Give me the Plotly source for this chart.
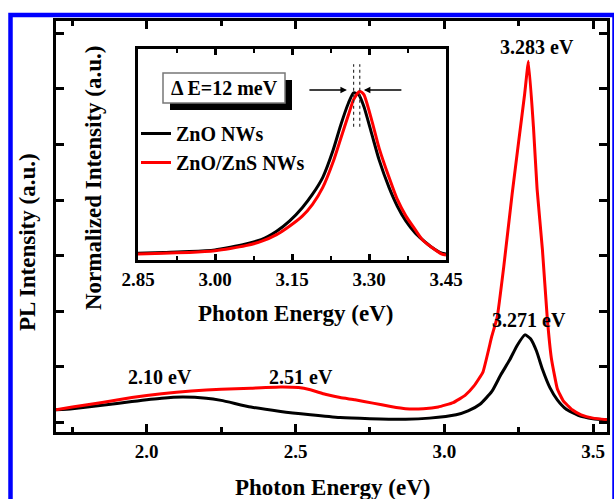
import plotly.graph_objects as go

# ---------------- data ----------------
# main panel: PL intensity (a.u.) vs photon energy (eV)
e_zno = [1.695, 1.75, 1.85, 1.95, 2.05, 2.12, 2.20, 2.25, 2.35, 2.45, 2.55, 2.65, 2.75, 2.87,
         2.95, 3.04, 3.08, 3.12, 3.16, 3.19, 3.22, 3.245, 3.271, 3.29, 3.31, 3.33, 3.355,
         3.38, 3.41, 3.45, 3.50, 3.547]
i_zno = [0.22, 0.24, 0.30, 0.37, 0.43, 0.45, 0.43, 0.39, 0.27, 0.19, 0.13, 0.08, 0.06, 0.05,
         0.07, 0.13, 0.20, 0.32, 0.55, 0.85, 1.12, 1.38, 1.57, 1.50, 1.28, 0.95, 0.62,
         0.40, 0.23, 0.12, 0.06, 0.04]

e_zns = [1.695, 1.75, 1.85, 1.95, 2.05, 2.15, 2.25, 2.35, 2.45, 2.51, 2.55, 2.60, 2.65, 2.70,
         2.76, 2.82, 2.87, 2.93, 2.98, 3.03, 3.07, 3.10, 3.13, 3.16, 3.178, 3.20, 3.228, 3.25,
         3.27, 3.283, 3.30, 3.312, 3.33, 3.346, 3.36, 3.38, 3.40, 3.43, 3.46, 3.50, 3.547]
i_zns = [0.22, 0.27, 0.35, 0.44, 0.51, 0.56, 0.59, 0.61, 0.63, 0.62, 0.58, 0.50, 0.44, 0.40,
         0.34, 0.28, 0.24, 0.24, 0.27, 0.35, 0.48, 0.65, 0.90, 1.55, 1.89, 2.80, 4.10, 5.05,
         5.90, 6.50, 5.30, 4.20, 3.10, 1.89, 1.15, 0.60, 0.38, 0.22, 0.13, 0.07, 0.04]

# inset: normalized intensity
e_in_zno = [2.85, 2.90, 2.95, 3.00, 3.03, 3.06, 3.09, 3.12, 3.145, 3.17, 3.19, 3.21, 3.23,
            3.245, 3.26, 3.27, 3.28, 3.29, 3.306, 3.32, 3.339, 3.355, 3.372, 3.39, 3.404,
            3.42, 3.442, 3.45]
n_in_zno = [0.04, 0.045, 0.05, 0.06, 0.076, 0.095, 0.12, 0.17, 0.23, 0.31, 0.39, 0.49, 0.65,
            0.80, 0.93, 0.99, 0.98, 0.91, 0.74, 0.59, 0.43, 0.32, 0.23, 0.16, 0.12,
            0.08, 0.04, 0.035]
e_in_zns = [2.85, 2.90, 2.95, 3.00, 3.03, 3.06, 3.09, 3.12, 3.145, 3.17, 3.19, 3.21, 3.23,
            3.245, 3.26, 3.27, 3.282, 3.29, 3.306, 3.32, 3.339, 3.355, 3.372, 3.39, 3.404,
            3.42, 3.442, 3.45]
n_in_zns = [0.035, 0.04, 0.045, 0.055, 0.068, 0.085, 0.11, 0.15, 0.20, 0.26, 0.33, 0.43, 0.58,
            0.72, 0.86, 0.95, 1.00, 0.98, 0.82, 0.66, 0.49, 0.36, 0.26, 0.18, 0.12,
            0.08, 0.035, 0.03]

series_names = ["ZnO NWs", "ZnO/ZnS NWs"]
series_colors = ["#000000", "#ff0000"]
peak_labels = ["3.283 eV", "3.271 eV", "2.10 eV", "2.51 eV"]
main_xticks = [2.0, 2.5, 3.0, 3.5]
inset_xticks = [2.85, 3.00, 3.15, 3.30, 3.45]
peak_zno_in, peak_zns_in = 3.270, 3.282
delta_label = "\u0394 E=12 meV"

# ---------------- figure ----------------
FONT = "Liberation Serif"
W, H = 614, 499
L, R, T, B = 56, 7, 21, 67
pw, ph = W - L - R, H - T - B


def px(xp):
    return (xp - L) / pw


def py(yp):
    return (H - B - yp) / ph


fig = go.Figure()

fig.add_trace(go.Scatter(x=e_zno, y=i_zno, mode="lines", name=series_names[0],
                         line=dict(color=series_colors[0], width=3, shape="spline", smoothing=0.5,
                                   simplify=False),
                         showlegend=False, xaxis="x", yaxis="y"))
fig.add_trace(go.Scatter(x=e_zns, y=i_zns, mode="lines", name=series_names[1],
                         line=dict(color=series_colors[1], width=3, shape="spline", smoothing=0.35,
                                   simplify=False),
                         showlegend=False, xaxis="x", yaxis="y"))
fig.add_trace(go.Scatter(x=e_in_zno, y=n_in_zno, mode="lines", name=series_names[0],
                         line=dict(color=series_colors[0], width=3, shape="spline", smoothing=0.6),
                         xaxis="x2", yaxis="y2"))
fig.add_trace(go.Scatter(x=e_in_zns, y=n_in_zns, mode="lines", name=series_names[1],
                         line=dict(color=series_colors[1], width=3, shape="spline", smoothing=0.6),
                         xaxis="x2", yaxis="y2"))

axis_common = dict(showline=True, linecolor="black", linewidth=3, mirror="ticks",
                   ticks="inside", tickcolor="black", tickwidth=2.5, showgrid=False,
                   zeroline=False, automargin=False,
                   tickfont=dict(family=FONT, size=19, color="black", weight="bold"))

inset_x0, inset_x1 = px(138), px(446)
inset_y0, inset_y1 = py(260), py(49)

fig.update_layout(
    width=W, height=H, autosize=False,
    margin=dict(l=L, r=R, t=T, b=B, pad=0),
    paper_bgcolor="white", plot_bgcolor="white",
    font=dict(family=FONT, color="black", weight="bold"),
    xaxis=dict(range=[1.695, 3.547], tickvals=main_xticks, ticktext=[f"{v:.1f}" for v in main_xticks],
               ticklen=8, minor=dict(dtick=0.25, tick0=1.75, ticklen=5, tickwidth=2.5,
                                      ticks="inside", tickcolor="black"),
               **axis_common),
    yaxis=dict(range=[-0.18, 7.225], tickvals=list(range(0, 8)), showticklabels=False, ticklen=8,
               **axis_common),
    xaxis2=dict(domain=[inset_x0, inset_x1], anchor="y2", range=[2.85, 3.45],
                tickvals=inset_xticks, ticktext=[f"{v:.2f}" for v in inset_xticks], ticklen=6,
                minor=dict(dtick=0.075, tick0=2.85, ticklen=4, tickwidth=2, ticks="inside",
                           tickcolor="black"),
                **axis_common),
    yaxis2=dict(domain=[inset_y0, inset_y1], anchor="x2", range=[0, 1.25],
                showticklabels=False, ticklen=0, **{k: v for k, v in axis_common.items() if k != "ticks"}),
    showlegend=True,
    legend=dict(x=px(136), y=py(114), xanchor="left", yanchor="top",
                bgcolor="rgba(0,0,0,0)", borderwidth=0, tracegroupgap=0,
                font=dict(family=FONT, size=20, color="black", weight="bold"),
                itemwidth=30),
)

shapes = []
# blue frame
shapes.append(dict(type="rect", xref="paper", yref="paper", x0=px(10.5), x1=px(614.5),
                   y0=py(530), y1=py(15), line=dict(color="#0000ff", width=4.5), layer="above"))
# delta-E box with shadow
shapes.append(dict(type="rect", xref="paper", yref="paper", x0=px(170), x1=px(292),
                   y0=py(110), y1=py(80), fillcolor="black", line=dict(width=0), layer="above"))
shapes.append(dict(type="rect", xref="paper", yref="paper", x0=px(163), x1=px(285),
                   y0=py(103), y1=py(73), fillcolor="white", line=dict(color="#777777", width=1.5),
                   layer="above"))
# dashed peak markers in inset
for xv in (peak_zno_in, peak_zns_in):
    shapes.append(dict(type="line", xref="x2", yref="y2", x0=xv, x1=xv, y0=0.79, y1=1.16,
                       line=dict(color="#333333", width=1.2, dash="dot")))
fig.update_layout(shapes=shapes)

ann = []
af = dict(family=FONT, size=20, color="black", weight="bold")
C = dict(xanchor="center", yanchor="middle", showarrow=False)
ann.append(dict(text=delta_label, xref="paper", yref="paper", x=px(224), y=py(88), font=af, **C))
# arrows
ann.append(dict(x=3.257, y=1.007, ax=3.181, ay=1.007, xref="x2", yref="y2", axref="x2", ayref="y2",
                showarrow=True, arrowhead=2, arrowsize=1, arrowwidth=1.3, arrowcolor="black", text=""))
ann.append(dict(x=3.290, y=1.007, ax=3.366, ay=1.007, xref="x2", yref="y2", axref="x2", ayref="y2",
                showarrow=True, arrowhead=2, arrowsize=1, arrowwidth=1.3, arrowcolor="black", text=""))
# peak labels
ann.append(dict(text=peak_labels[0], xref="x", yref="y", x=3.312, y=6.76, font=af, **C))
ann.append(dict(text=peak_labels[1], xref="x", yref="y", x=3.286, y=1.84, font=af, **C))
ann.append(dict(text=peak_labels[2], xref="x", yref="y", x=2.044, y=0.81, font=af, **C))
ann.append(dict(text=peak_labels[3], xref="x", yref="y", x=2.517, y=0.81, font=af, **C))
# axis titles
tf = dict(family=FONT, size=23, color="black", weight="bold")
ann.append(dict(text="Photon Energy (eV)", xref="paper", yref="paper", x=px(332), y=py(487),
                font=tf, **C))
ann.append(dict(text="PL Intensity (a.u.)", xref="paper", yref="paper", x=px(27), y=py(242),
                font=tf, textangle=-90, **C))
ann.append(dict(text="Photon Energy (eV)", xref="paper", yref="paper", x=px(295), y=py(313),
                font=tf, **C))
ann.append(dict(text="Normalized Intensity (a.u.)", xref="paper", yref="paper", x=px(93), y=py(178),
                font=tf, textangle=-90, **C))
fig.update_layout(annotations=ann)

fig.write_html("out.html",
               config={"displayModeBar": False, "responsive": False},
               post_script="document.body.style.margin='0px';document.body.style.overflow='hidden';")
